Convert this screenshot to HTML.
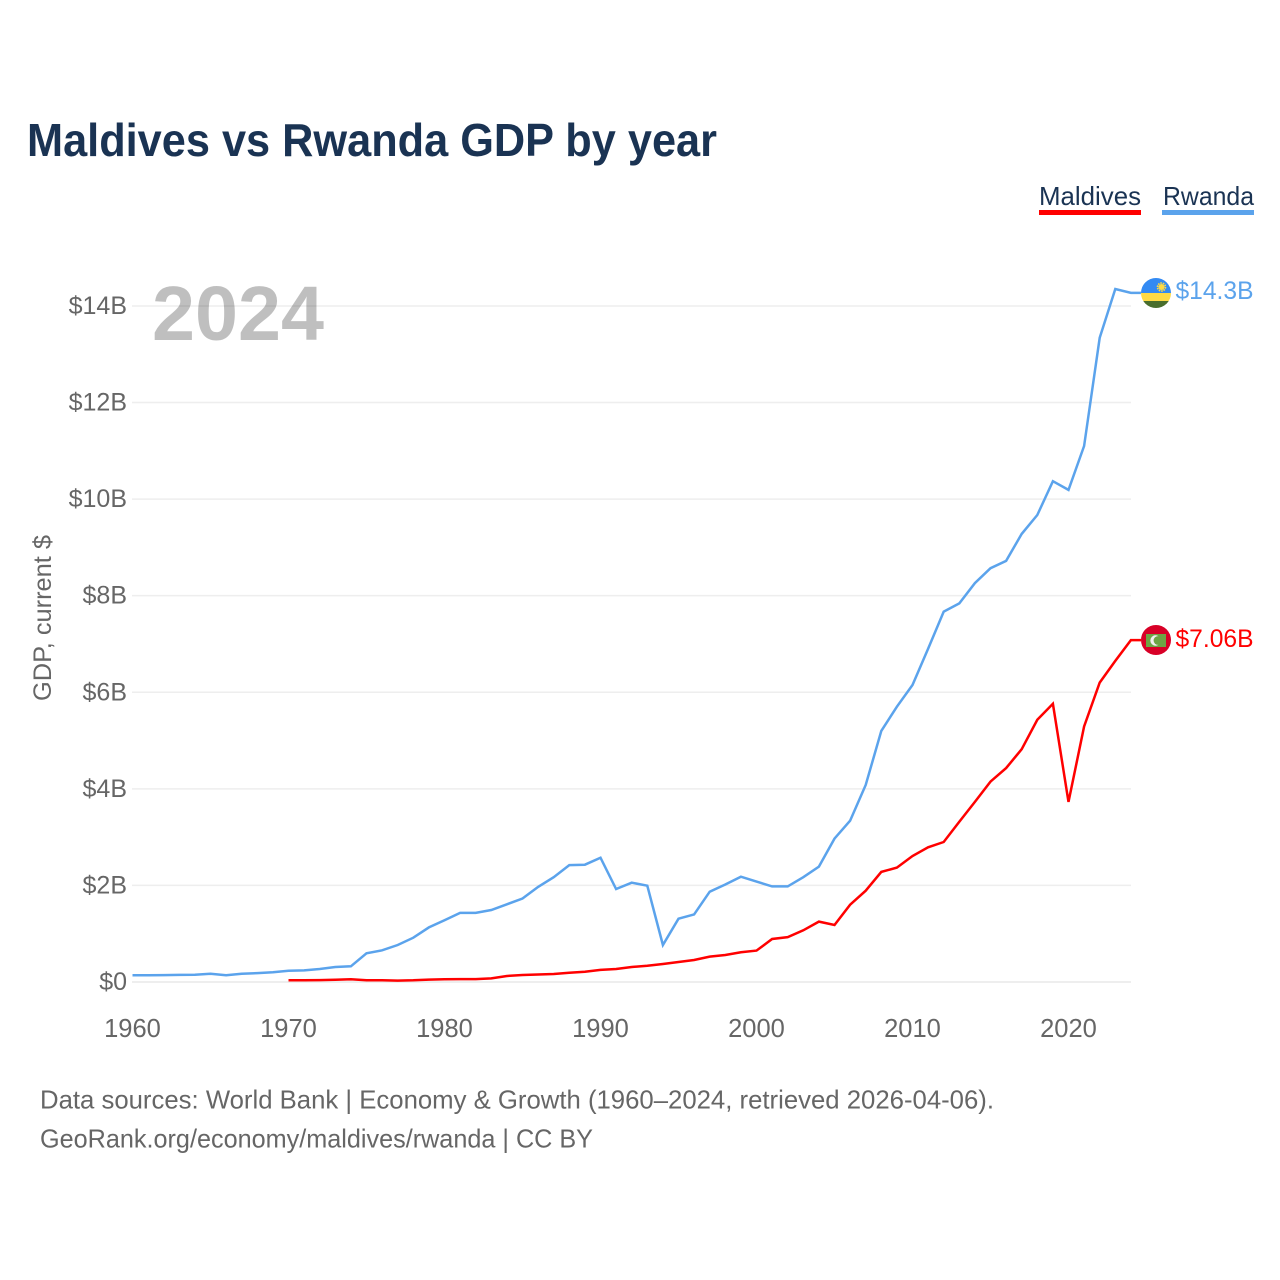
<!DOCTYPE html>
<html lang="en">
<head>
<meta charset="utf-8">
<title>Maldives vs Rwanda GDP by year</title>
<style>
html,body{margin:0;padding:0;background:#fff;width:1280px;height:1280px;overflow:hidden}
svg{display:block}
text{font-family:"Liberation Sans",sans-serif}
</style>
</head>
<body>
<svg id="chart" width="1280" height="1280" viewBox="0 0 1280 1280" xmlns="http://www.w3.org/2000/svg">
  <text x="27" y="156" font-size="46" font-weight="700" fill="#1a3353" textLength="690" lengthAdjust="spacingAndGlyphs">Maldives vs Rwanda GDP by year</text>

  <g id="grid"></g>
  <g id="yticks"></g>
  <g id="xticks"></g>

  <text x="152" y="340" font-size="77" font-weight="700" fill="#000" fill-opacity="0.25" textLength="172" lengthAdjust="spacingAndGlyphs">2024</text>

  <text transform="translate(51,701) rotate(-90)" font-size="25" fill="#666" textLength="166" lengthAdjust="spacingAndGlyphs">GDP, current $</text>

  <g id="series"></g>

  <g>
    <text x="1039" y="205" font-size="26" fill="#1a3353" textLength="102" lengthAdjust="spacingAndGlyphs">Maldives</text>
    <rect x="1039" y="210" width="102" height="5" fill="#ff0000"></rect>
  </g>
  <g>
    <text x="1163" y="205" font-size="26" fill="#1a3353" textLength="91" lengthAdjust="spacingAndGlyphs">Rwanda</text>
    <rect x="1162" y="210" width="92" height="5" fill="#5ba3ec"></rect>
  </g>

  <g id="flag-rwanda">
    <clipPath id="clip-rw"><circle cx="1156" cy="293" r="15"></circle></clipPath>
    <g clip-path="url(#clip-rw)">
      <rect x="1140" y="277" width="32" height="16" fill="#338af3"></rect>
      <rect x="1140" y="293" width="32" height="8" fill="#ffda44"></rect>
      <rect x="1140" y="301" width="32" height="8" fill="#496e2d"></rect>
    </g>
    <circle cx="1161.5" cy="287" r="3" fill="#ffda44"></circle>
    <circle cx="1161.5" cy="287" r="4" fill="none" stroke="#ffda44" stroke-width="1.6" stroke-dasharray="1.6 0.9"></circle>
  </g>

  <g id="flag-maldives">
    <circle cx="1156" cy="640" r="15" fill="#d80027"></circle>
    <rect x="1146" y="634" width="20" height="13" fill="#6da544"></rect>
    <circle cx="1155.5" cy="640.5" r="5.2" fill="#f0f0f0"></circle>
    <circle cx="1158" cy="640.5" r="4.4" fill="#6da544"></circle>
  </g>

  <text x="1175.5" y="299" font-size="25" fill="#5ba3ec" textLength="78" lengthAdjust="spacingAndGlyphs">$14.3B</text>
  <text x="1175.5" y="647" font-size="25" fill="#ff0000" textLength="78" lengthAdjust="spacingAndGlyphs">$7.06B</text>

  <text x="40" y="1108.5" font-size="26" fill="#666" textLength="954" lengthAdjust="spacingAndGlyphs">Data sources: World Bank | Economy &amp; Growth (1960–2024, retrieved 2026-04-06).</text>
  <text x="40" y="1147.5" font-size="26" fill="#666" textLength="553" lengthAdjust="spacingAndGlyphs">GeoRank.org/economy/maldives/rwanda | CC BY</text>
</svg>
<script>
const years = [1960,1961,1962,1963,1964,1965,1966,1967,1968,1969,1970,1971,1972,1973,1974,1975,1976,1977,1978,1979,1980,1981,1982,1983,1984,1985,1986,1987,1988,1989,1990,1991,1992,1993,1994,1995,1996,1997,1998,1999,2000,2001,2002,2003,2004,2005,2006,2007,2008,2009,2010,2011,2012,2013,2014,2015,2016,2017,2018,2019,2020,2021,2022,2023,2024];
const rwandaValues = [0.139,0.14,0.142,0.147,0.149,0.172,0.139,0.172,0.185,0.20,0.234,0.24,0.27,0.31,0.325,0.594,0.656,0.766,0.917,1.13,1.28,1.43,1.43,1.49,1.61,1.73,1.97,2.17,2.42,2.43,2.575,1.926,2.056,1.995,0.766,1.31,1.40,1.87,2.02,2.18,2.08,1.98,1.98,2.17,2.39,2.97,3.34,4.08,5.20,5.70,6.15,6.90,7.67,7.84,8.26,8.57,8.72,9.28,9.67,10.37,10.19,11.10,13.34,14.35,14.27];
const maldivesValues = [null,null,null,null,null,null,null,null,null,null,0.035,0.035,0.04,0.045,0.055,0.035,0.035,0.03,0.035,0.05,0.055,0.06,0.06,0.075,0.125,0.145,0.155,0.166,0.193,0.213,0.25,0.27,0.31,0.338,0.373,0.414,0.456,0.525,0.56,0.615,0.65,0.89,0.93,1.07,1.25,1.18,1.60,1.89,2.28,2.37,2.61,2.79,2.90,3.32,3.73,4.15,4.43,4.82,5.43,5.76,3.73,5.29,6.20,6.65,7.08];
const yTickValues = [0,2,4,6,8,10,12,14];
const yTickLabels = ["$0","$2B","$4B","$6B","$8B","$10B","$12B","$14B"];
const xTickValues = [1960,1970,1980,1990,2000,2010,2020];

const NS = 'http://www.w3.org/2000/svg';
const xScale = function (year) { return 132.5 + (year - 1960) * 15.6; };
const yScale = function (v) { return 982 - v * 48.29; };
const LEADER_END_X = 1141;

const gridLayer = document.getElementById('grid');
const yLayer = document.getElementById('yticks');
const xLayer = document.getElementById('xticks');
const seriesLayer = document.getElementById('series');

yTickValues.forEach(function (v, i) {
  const line = document.createElementNS(NS, 'line');
  
  
  line.setAttribute('x1', 132);
  line.setAttribute('x2', 1131);
  line.setAttribute('y1', yScale(v));
  line.setAttribute('y2', yScale(v));
  line.setAttribute('stroke', '#eeeeee');
  line.setAttribute('stroke-width', v === 0 ? 2 : 1.5);
  gridLayer.appendChild(line);

  const label = document.createElementNS(NS, 'text');
  
  
  label.setAttribute('x', 127);
  label.setAttribute('y', yScale(v) + 8);
  label.setAttribute('text-anchor', 'end');
  label.setAttribute('font-size', 25);
  label.setAttribute('fill', '#666');
  label.textContent = yTickLabels[i];
  yLayer.appendChild(label);
});

xTickValues.forEach(function (year) {
  const label = document.createElementNS(NS, 'text');
  
  
  label.setAttribute('x', xScale(year));
  label.setAttribute('y', 1037);
  label.setAttribute('text-anchor', 'middle');
  label.setAttribute('font-size', 25.5);
  label.setAttribute('fill', '#666');
  label.textContent = String(year);
  xLayer.appendChild(label);
});

function buildPoints(values) {
  const pts = [];
  let last = null;
  values.forEach(function (v, i) {
    if (v === null) return;
    last = yScale(v);
    pts.push(xScale(years[i]).toFixed(1) + ',' + last.toFixed(1));
  });
  pts.push(LEADER_END_X + ',' + last.toFixed(1));
  return pts.join(' ');
}

const rwandaLine = document.createElementNS(NS, 'polyline');


rwandaLine.setAttribute('points', buildPoints(rwandaValues));
rwandaLine.setAttribute('fill', 'none');
rwandaLine.setAttribute('stroke', '#5ba3ec');
rwandaLine.setAttribute('stroke-width', 2.5);
seriesLayer.appendChild(rwandaLine);

const maldivesLine = document.createElementNS(NS, 'polyline');


maldivesLine.setAttribute('points', buildPoints(maldivesValues));
maldivesLine.setAttribute('fill', 'none');
maldivesLine.setAttribute('stroke', '#ff0000');
maldivesLine.setAttribute('stroke-width', 2.5);
seriesLayer.appendChild(maldivesLine);
</script>
</body>
</html>
